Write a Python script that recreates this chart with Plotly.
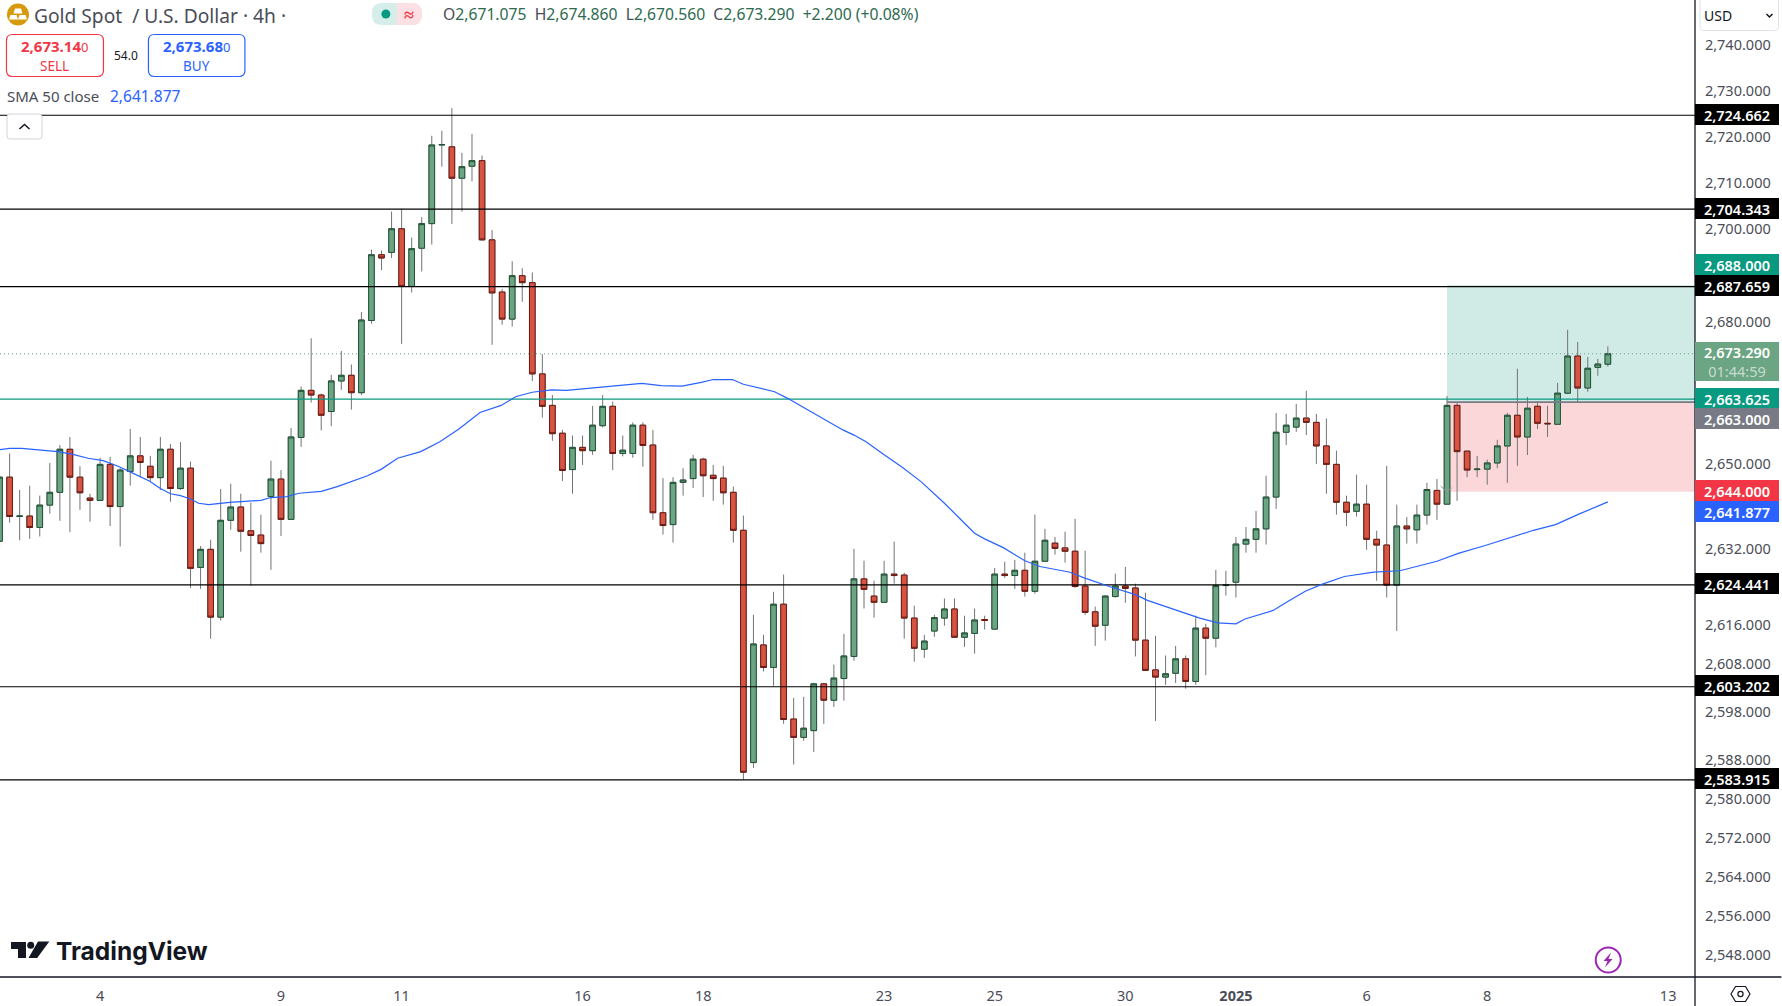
import numpy as np
import plotly.graph_objects as go

opens = [2633.6,2647.1,2638.8,2638.9,2636.5,2641.2,2643.9,2653.0,2647.1,2642.7,
2642.2,2649.8,2640.9,2648.3,2651.6,2649.4,2647.0,2653.0,2644.7,2649.0,
2628.1,2631.9,2617.7,2638.0,2640.8,2635.8,2634.9,2643.0,2646.7,2638.2,
2655.5,2665.5,2664.5,2661.0,2667.5,2668.7,2665.0,2680.4,2694.5,2695.0,
2700.1,2687.7,2695.9,2701.2,2718.2,2717.8,2711.0,2713.6,2714.8,2697.7,
2686.5,2680.7,2690.0,2688.5,2669.0,2662.3,2656.4,2648.7,2653.4,2652.7,
2658.0,2662.1,2652.1,2652.1,2658.1,2653.9,2639.6,2637.1,2646.0,2646.8,
2650.9,2647.5,2646.9,2643.9,2635.9,2587.5,2611.9,2607.2,2620.4,2596.5,
2592.7,2594.1,2603.8,2600.4,2604.9,2609.5,2625.7,2622.1,2620.8,2626.7,
2626.5,2617.5,2611.0,2614.8,2617.5,2619.4,2613.5,2614.3,2617.2,2615.2,
2626.7,2626.4,2627.5,2623.1,2629.4,2633.2,2632.2,2631.5,2624.2,2618.8,
2616.0,2622.0,2624.2,2623.8,2612.9,2606.7,2605.2,2606.0,2609.0,2604.3,
2615.4,2613.3,2624.3,2625.0,2633.0,2634.0,2636.2,2642.9,2656.6,2657.7,
2659.6,2658.7,2653.7,2649.8,2641.8,2639.9,2641.4,2634.0,2632.8,2624.4,
2636.8,2636.0,2639.1,2644.3,2641.4,2662.3,2652.6,2648.7,2648.8,2650.1,
2653.7,2660.2,2655.6,2662.1,2658.5,2658.3,2664.9,2672.8,2666.0,2670.4,2671.075]
highs = [2647.9,2652.1,2644.4,2645.3,2643.2,2650.1,2653.9,2655.6,2649.4,2643.6,
2651.2,2651.4,2649.0,2657.3,2655.6,2651.6,2655.6,2654.1,2654.5,2650.4,
2632.6,2633.9,2644.6,2645.7,2643.6,2641.7,2639.2,2650.6,2648.6,2657.5,
2666.3,2676.6,2664.8,2668.8,2673.9,2671.0,2682.2,2695.6,2695.4,2703.8,
2704.4,2698.2,2702.6,2720.2,2721.3,2726.2,2716.5,2720.6,2715.9,2699.8,
2687.2,2693.1,2691.6,2690.7,2673.2,2664.5,2657.1,2655.9,2655.9,2662.2,
2664.5,2663.1,2655.9,2658.7,2658.7,2657.1,2646.9,2647.1,2649.0,2651.8,
2651.2,2649.7,2649.5,2645.1,2639.0,2618.2,2614.0,2623.0,2626.6,2600.9,
2601.1,2604.0,2604.0,2607.8,2614.2,2632.0,2629.5,2625.3,2629.5,2633.5,
2627.0,2620.1,2614.0,2618.2,2621.6,2621.6,2618.0,2619.5,2618.0,2628.0,
2629.3,2629.7,2631.2,2639.2,2636.2,2634.5,2635.6,2638.3,2631.6,2619.9,
2622.3,2626.8,2628.2,2624.7,2622.8,2613.8,2609.7,2611.7,2609.7,2618.0,
2616.3,2627.6,2627.4,2634.5,2636.6,2640.0,2647.4,2660.7,2660.5,2662.6,
2665.4,2660.5,2659.5,2652.7,2643.2,2647.6,2645.5,2635.8,2649.5,2641.3,
2638.7,2641.3,2645.9,2646.7,2664.3,2663.0,2652.7,2651.6,2650.8,2655.0,
2660.7,2670.1,2664.1,2663.2,2662.2,2667.1,2678.4,2675.8,2672.6,2672.2,2674.86]
lows = [2632.5,2637.5,2633.8,2634.1,2634.6,2639.4,2637.9,2635.5,2640.2,2637.7,
2642.1,2636.8,2632.5,2645.3,2647.1,2646.2,2644.4,2641.9,2644.4,2623.8,
2623.6,2613.2,2617.0,2636.0,2631.4,2624.3,2631.2,2627.6,2634.7,2638.1,
2653.5,2662.9,2657.0,2657.9,2665.6,2661.4,2664.5,2679.7,2691.2,2693.8,
2675.4,2686.4,2690.9,2696.7,2713.5,2701.1,2703.8,2710.3,2697.6,2675.2,
2679.5,2679.1,2684.4,2667.5,2659.7,2654.8,2646.3,2643.6,2649.7,2651.8,
2657.6,2648.6,2651.5,2651.2,2649.3,2638.1,2635.0,2633.3,2643.2,2644.8,
2642.9,2642.1,2641.3,2633.3,2584.0,2586.4,2606.4,2603.4,2595.5,2587.1,
2592.0,2589.7,2595.5,2599.0,2600.3,2608.6,2619.5,2617.6,2620.7,2624.7,
2613.2,2608.4,2609.2,2613.6,2615.9,2613.4,2611.5,2610.1,2615.1,2615.1,
2625.9,2623.6,2622.0,2622.6,2629.3,2630.8,2629.1,2623.8,2618.2,2611.7,
2612.8,2621.8,2620.7,2609.5,2606.5,2596.1,2603.6,2604.0,2602.8,2603.6,
2605.6,2611.4,2622.2,2621.8,2631.2,2631.2,2632.9,2640.4,2653.9,2656.7,
2656.0,2649.9,2643.6,2639.2,2636.8,2638.8,2631.8,2625.3,2621.8,2614.8,
2633.1,2633.1,2637.1,2638.1,2641.3,2642.1,2647.1,2647.1,2645.5,2649.0,
2645.9,2649.5,2651.8,2657.3,2655.6,2658.2,2664.7,2663.0,2665.2,2668.6,2670.56]
closes = [2647.1,2638.8,2638.9,2636.5,2641.2,2643.9,2653.0,2647.1,2643.8,2642.2,
2649.8,2640.9,2648.6,2651.6,2650.2,2647.0,2653.0,2644.7,2649.0,2627.9,
2631.9,2617.7,2638.0,2640.8,2635.7,2634.8,2633.1,2646.7,2638.2,2655.6,
2665.5,2664.5,2660.2,2667.5,2668.7,2665.0,2680.5,2694.5,2693.8,2700.1,
2687.7,2695.8,2701.2,2718.2,2718.3,2711.0,2713.5,2714.8,2697.7,2686.3,
2680.7,2690.0,2688.5,2669.0,2662.1,2656.3,2648.5,2653.4,2652.7,2658.1,
2662.1,2652.1,2652.8,2658.1,2653.8,2639.6,2636.9,2646.0,2646.5,2650.9,
2647.4,2646.8,2643.8,2635.9,2585.5,2612.1,2607.2,2620.4,2596.4,2592.7,
2594.6,2603.8,2600.4,2605.0,2609.6,2625.7,2623.5,2620.8,2626.7,2626.4,
2617.5,2611.2,2612.7,2617.6,2619.4,2613.5,2614.4,2617.1,2617.0,2626.7,
2626.4,2627.5,2623.1,2629.4,2633.8,2632.1,2631.5,2624.1,2618.7,2615.8,
2622.1,2624.2,2623.7,2612.9,2606.6,2605.2,2605.9,2609.0,2604.3,2615.4,
2613.3,2624.3,2624.4,2633.0,2634.0,2636.2,2642.9,2656.6,2658.1,2659.6,
2658.7,2653.7,2649.8,2641.8,2639.7,2641.4,2634.0,2632.8,2624.4,2636.8,
2636.2,2639.1,2644.5,2641.4,2662.3,2652.5,2648.6,2648.8,2650.1,2653.7,
2660.2,2655.6,2661.7,2658.5,2658.4,2664.9,2672.8,2666.0,2670.2,2671.1,2673.29]
bars = list(range(len(opens)))

sma_bar = [0,1,2.2,3.9,5.8,7.3,8.8,10.3,11.8,13.3,14.9,16,17,18,19,19.8,20.8,22.9,24.8,26,27,28.6,29.8,31,32,33.6,35,36.6,38,39.6,41.9,43.8,45.7,47.8,49.9,51.4,53,54.9,56.4,57.9,59.7,61.6,63.9,65.8,67.9,69.8,71,72.9,74,77.1,78.4,80.3,82.2,83.9,85,86.2,87.9,89.8,91.7,94,95.9,97,98,99.9,102,103.5,106.5,107.9,110.4,113,114.2,116.8,119.4,121.2,123,123.9,126.7,128.2,129.9,131.6,133.8,136.7,139.3,143,145.2,147.8,150.8,152.6,154.8,157,160]
sma_val = [2652.9,2653.2,2653.2,2652.8,2652.5,2651.9,2651.1,2650.6,2649.4,2647.9,2646.3,2644.7,2643.6,2643.2,2642.5,2641.6,2641.3,2641.8,2642.1,2642.2,2642.8,2643.0,2643.7,2644.0,2644.1,2645.1,2646.1,2647.4,2648.8,2651.1,2652.5,2654.6,2657.3,2660.8,2662.3,2664.2,2665.1,2665.6,2665.5,2665.8,2666.3,2666.7,2667.0,2666.5,2666.4,2667.2,2667.8,2667.8,2666.8,2665.2,2663.8,2661.5,2659.2,2657.1,2656.0,2654.6,2652.0,2649.2,2646.1,2641.6,2637.6,2635.3,2634.1,2632.2,2629.5,2628.3,2627.1,2625.9,2624.1,2622.4,2621.2,2619.4,2617.5,2616.5,2616.3,2617.3,2619.1,2621.0,2623.1,2624.6,2626.2,2627.1,2627.4,2629.4,2631.1,2632.7,2634.6,2635.9,2637.1,2639.2,2641.877]

support_levels = [2724.662, 2704.343, 2687.659, 2624.441, 2603.202, 2583.915]
pivot_level = 2663.625
last_price = 2673.29
entry_price = 2663.0
target_price = 2688.0
stop_price = 2644.0
position_start_bar = 144

y_ticks = [2740,2730,2720,2710,2700,2680,2650,2632,2616,2608,2598,2588,2580,2572,2564,2556,2548]
y_labels = [f"{v:,}.000" for v in y_ticks]
x_ticks = [10,28,40,58,70,88,99,112,123,136,148,166]
x_labels = ["4","9","11","16","18","23","25","30","<b>2025</b>","6","8","13"]

X_MIN, X_MAX = 0.045, 168.67
Y_MIN, Y_MAX = 2543.6, 2749.83
W, H = 1695.5, 977.0
FONT = "Noto Sans"

def fx(px): return px / W
def fy(py): return 1 - py / H
def path(points, close=True):
    s = "M " + " L ".join(f"{fx(a):.5f} {fy(b):.5f}" for a, b in points)
    return s + (" Z" if close else "")
def rrect(x0, y0, x1, y1, r):
    return (f"M {fx(x0+r):.5f} {fy(y0):.5f} L {fx(x1-r):.5f} {fy(y0):.5f} Q {fx(x1):.5f} {fy(y0):.5f} {fx(x1):.5f} {fy(y0+r):.5f} "
            f"L {fx(x1):.5f} {fy(y1-r):.5f} Q {fx(x1):.5f} {fy(y1):.5f} {fx(x1-r):.5f} {fy(y1):.5f} "
            f"L {fx(x0+r):.5f} {fy(y1):.5f} Q {fx(x0):.5f} {fy(y1):.5f} {fx(x0):.5f} {fy(y1-r):.5f} "
            f"L {fx(x0):.5f} {fy(y0+r):.5f} Q {fx(x0):.5f} {fy(y0):.5f} {fx(x0+r):.5f} {fy(y0):.5f} Z")

shapes, annos = [], []
def pshape(p, fill="rgba(0,0,0,0)", line="rgba(0,0,0,0)", width=0):
    shapes.append(dict(type="path", xref="paper", yref="paper", path=p, fillcolor=fill,
                       line=dict(color=line, width=width), layer="above"))
def circle(cx, cy, r, fill="rgba(0,0,0,0)", line="rgba(0,0,0,0)", width=0):
    shapes.append(dict(type="circle", xref="paper", yref="paper", x0=fx(cx-r), x1=fx(cx+r), y0=fy(cy+r), y1=fy(cy-r),
                       fillcolor=fill, line=dict(color=line, width=width), layer="above"))
def text(s, px, py, size=13, color="#131722", anchor="left", family=FONT):
    annos.append(dict(text=s, xref="paper", yref="paper", x=fx(px), y=fy(py), xanchor=anchor, yanchor="middle",
                      showarrow=False, borderpad=0, borderwidth=0, font=dict(size=size, color=color, family=family)))

# position zones
shapes.append(dict(type="rect", xref="x", yref="y", x0=position_start_bar, x1=X_MAX, y0=entry_price, y1=target_price,
                   fillcolor="#D0EBE6", line=dict(width=0), layer="below"))
shapes.append(dict(type="rect", xref="x", yref="y", x0=position_start_bar, x1=X_MAX, y0=stop_price, y1=entry_price,
                   fillcolor="#FBD7DA", line=dict(width=0), layer="below"))

# frame
pshape(path([(W, 0), (W, 1006)], False), line="#131722", width=1.3)
pshape(path([(0, H), (1782, H)], False), line="#131722", width=1.3)

# header chrome
circle(18, 14.5, 11, fill="#D69A0C")
pshape(path([(15, 8.5), (21, 8.5), (22.5, 13.5), (13.5, 13.5)]), fill="#FFFFFF")
pshape(path([(10.5, 15), (16.5, 15), (18, 19.5), (9, 19.5)]), fill="#FFFFFF")
pshape(path([(19.5, 15), (25.5, 15), (27, 19.5), (18, 19.5)]), fill="#FFFFFF")
text("Gold Spot  / U.S. Dollar · 4h ·", 34, 15, size=19.2, color="#4A4D57")
pshape(rrect(372, 3, 422, 25, 10), fill="#D6EEEA")
pshape(f"M {fx(397):.5f} {fy(3):.5f} L {fx(412):.5f} {fy(3):.5f} Q {fx(422):.5f} {fy(3):.5f} {fx(422):.5f} {fy(13):.5f} "
       f"L {fx(422):.5f} {fy(15):.5f} Q {fx(422):.5f} {fy(25):.5f} {fx(412):.5f} {fy(25):.5f} L {fx(397):.5f} {fy(25):.5f} Z", fill="#FCE0E3")
circle(386, 14, 4.5, fill="#089981")
text("<b>≈</b>", 409, 14, size=18, color="#F23645", anchor="center")
val = "#2E6A4F"
text(f"O<span style='color:{val}'>2,671.075</span>  H<span style='color:{val}'>2,674.860</span>  "
     f"L<span style='color:{val}'>2,670.560</span>  C<span style='color:{val}'>2,673.290</span>  "
     f"<span style='color:{val}'>+2.200 (+0.08%)</span>", 443, 14, size=15.7, color="#4A4D57")
pshape(rrect(6.5, 34.5, 103.5, 76.5, 6), line="#F23645", width=1.2)
pshape(rrect(148.5, 34.5, 245, 76.5, 6), line="#2962FF", width=1.2)
text("<b>2,673.14</b><span style='font-size:13px'>0</span>", 55, 46.5, size=15, color="#F23645", anchor="center")
text("SELL", 55, 66, size=13.5, color="#F23645", anchor="center")
text("<b>2,673.68</b><span style='font-size:13px'>0</span>", 197, 46.5, size=15, color="#2962FF", anchor="center")
text("BUY", 197, 66, size=13.5, color="#2962FF", anchor="center")
text("54.0", 126.5, 55, size=12, color="#131722", anchor="center")
text("SMA 50 close", 7, 96, size=15, color="#4A4D57")
text("2,641.877", 110, 96, size=15.5, color="#2962FF")
pshape(rrect(7, 114, 42, 139, 3), fill="#FFFFFF", line="#D1D4DC", width=1)
pshape(path([(19.5, 129), (24.5, 124.5), (29.5, 129)], False), line="#131722", width=1.5)

# USD box and icons
pshape(rrect(1700.5, -3, 1779, 30.5, 4), fill="#FFFFFF", line="#E0E3EB", width=1)
text("USD", 1705, 15.5, size=14, color="#131722")
pshape(path([(1767, 14), (1770, 17), (1773, 14)], False), line="#131722", width=1.5)
pshape(path([(1731.5, 994), (1736, 986.5), (1746, 986.5), (1750.5, 994), (1746, 1001.5), (1736, 1001.5)]), line="#131722", width=1.2)
circle(1741, 994, 2.6, line="#131722", width=1.2)
circle(1608.7, 960, 12.5, line="#9C27B0", width=2)
pshape(path([(1611.5, 952.5), (1604, 961), (1608, 961), (1605.5, 967.5), (1613, 959), (1609, 959)]), fill="#9C27B0")
pshape(path([(1441, 486), (1447, 491.5), (1452, 488)], False), line="#9598A1", width=1)

# TradingView logo
pshape(path([(11, 942), (26, 942), (26, 958), (18, 958), (18, 949), (11, 949)]), fill="#131722")
circle(30.7, 945.3, 3.5, fill="#131722")
pshape(path([(38, 941.5), (49.3, 941.5), (37.2, 958), (28.5, 958)]), fill="#131722")
text("<b>TradingView</b>", 56.5, 950.5, size=24.5, color="#131722", family="Inter")

# price tags on the axis
def tag(s, value, bg, shift=0, h=21, color="#FFFFFF"):
    annos.append(dict(text=s, xref="paper", x=1, xanchor="left", yref="y", y=float(np.log10(value)), yanchor="middle",
                      yshift=shift + 1, showarrow=False, bgcolor=bg, width=84, height=h, borderpad=0, borderwidth=0,
                      align="center", font=dict(size=14.5, color=color, family=FONT, weight=600)))
for lv in support_levels:
    tag(f"{lv:,.3f}", lv, "#000000")
tag("2,688.000", target_price, "#089981", shift=20)
tag("2,687.659", support_levels[2], "#000000")
tag("2,673.290<br><span style='color:#C8DCCF;font-weight:400'>01:44:59</span>", last_price, "#6BA583", shift=-9, h=39)
tag("2,663.625", pivot_level, "#089981")
tag("2,663.000", entry_price, "#787B86", shift=-17)
tag("2,644.000", stop_price, "#F23645")
tag("2,641.877", sma_val[-1], "#2962FF", shift=-11)

fig = go.Figure()

def hline(x0, level, color, width=1.2, dash="solid"):
    fig.add_trace(go.Scatter(x=[x0, X_MAX], y=[level, level], mode="lines", line=dict(color=color, width=width, dash=dash),
                             hoverinfo="skip", showlegend=False))
fig.add_trace(go.Scatter(x=[X_MIN, X_MAX], y=[last_price, last_price], mode="lines",
                         line=dict(color="#6BA583", width=1, dash="1px 3px"), hoverinfo="skip", showlegend=False))
for lv in support_levels:
    hline(X_MIN, lv, "#000000")
hline(X_MIN, pivot_level, "#089981")
hline(position_start_bar, entry_price, "#787B86", width=1.6)

fig.add_trace(go.Scatter(x=sma_bar, y=sma_val, mode="lines", line=dict(color="#2962FF", width=1.2),
                         hoverinfo="skip", showlegend=False))

wick = "#737375"
fig.add_trace(go.Candlestick(x=bars, open=opens, high=highs, low=lows, close=closes, whiskerwidth=0,
                             increasing=dict(line=dict(color=wick, width=1), fillcolor=wick),
                             decreasing=dict(line=dict(color=wick, width=1), fillcolor=wick),
                             hoverinfo="skip", showlegend=False))
body_hi = [max(a, b) for a, b in zip(opens, closes)]
body_lo = [min(a, b) for a, b in zip(opens, closes)]
fig.add_trace(go.Candlestick(x=bars, open=opens, high=body_hi, low=body_lo, close=closes, whiskerwidth=0,
                             increasing=dict(line=dict(color="#225437", width=1), fillcolor="#6BA583"),
                             decreasing=dict(line=dict(color="#6B1A12", width=1), fillcolor="#D75442"),
                             hoverinfo="skip", showlegend=False))

fig.update_layout(
    width=1782, height=1006, autosize=False,
    margin=dict(l=0, r=86.5, t=0, b=29, pad=0),
    paper_bgcolor="#FFFFFF", plot_bgcolor="#FFFFFF",
    showlegend=False, hovermode=False, boxgap=0.2,
    font=dict(family=FONT, size=13, color="#4A4D57"),
    shapes=shapes, annotations=annos,
    xaxis=dict(type="linear", range=[X_MIN, X_MAX], rangeslider=dict(visible=False), showgrid=False, zeroline=False,
               tickmode="array", tickvals=x_ticks, ticktext=x_labels, ticks="outside", ticklen=6,
               tickcolor="rgba(0,0,0,0)", tickfont=dict(size=14.5, color="#4A4D57", family=FONT)),
    yaxis=dict(type="log", side="right", range=[float(np.log10(Y_MIN)), float(np.log10(Y_MAX))], showgrid=False,
               zeroline=False, tickmode="array", tickvals=y_ticks, ticktext=y_labels, ticks="outside", ticklen=6,
               tickcolor="rgba(0,0,0,0)", tickfont=dict(size=14.5, color="#4A4D57", family=FONT)),
)
fig.write_html("out.html", config=dict(displayModeBar=False, responsive=False),
               post_script="document.body.style.margin='0';document.body.style.overflow='hidden';")
